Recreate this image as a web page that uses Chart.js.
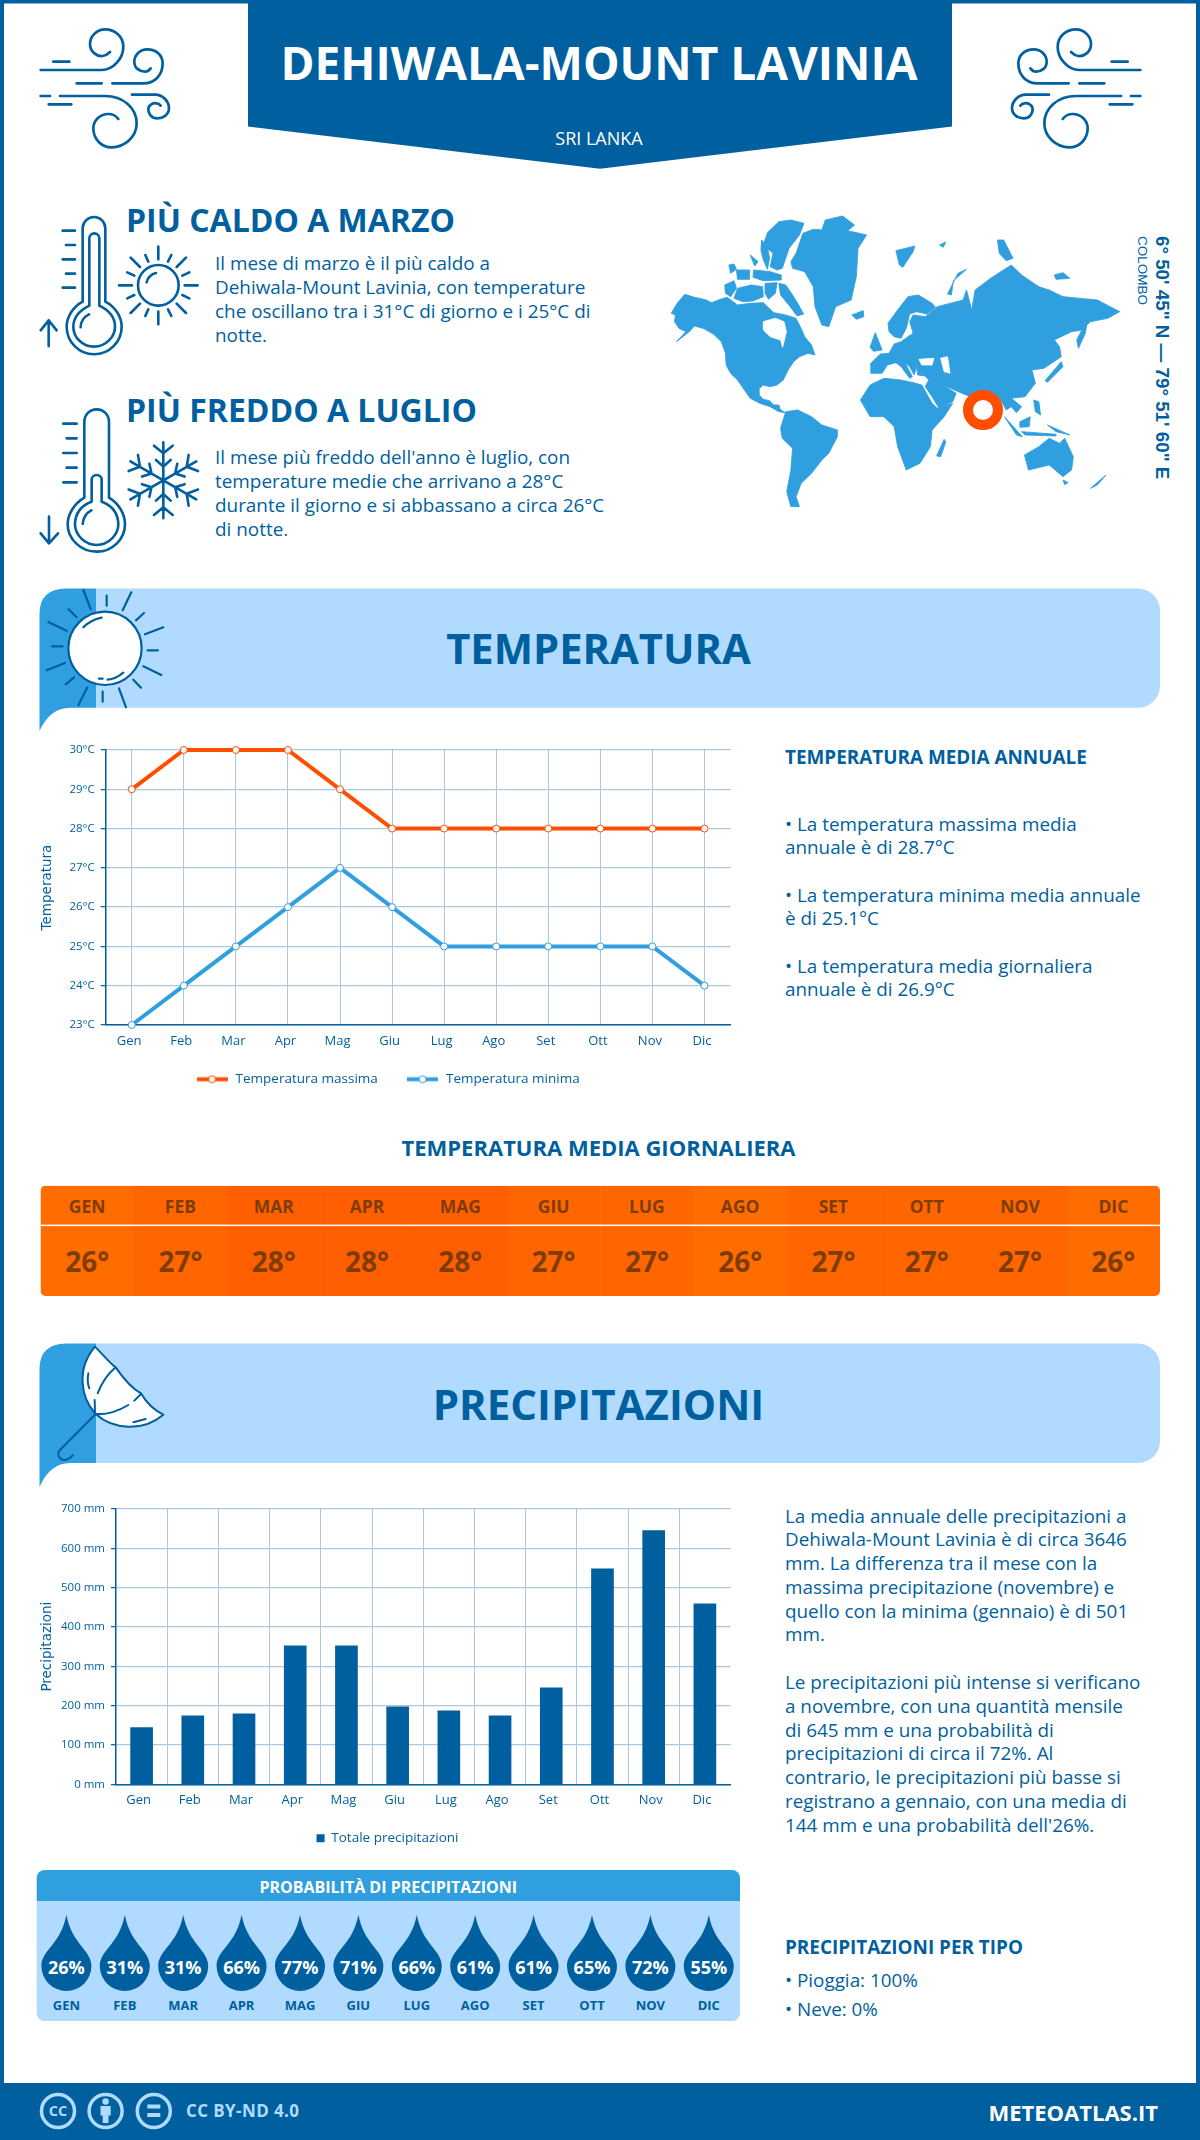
<!DOCTYPE html>
<html>
<head>
<meta charset="utf-8">
<title>Dehiwala-Mount Lavinia</title>
<script src="https://cdn.jsdelivr.net/npm/chart.js@4"></script>
<style>
  html, body { margin: 0; padding: 0; background: #fff; }
  #page { position: relative; width: 1200px; height: 2140px; overflow: hidden; background: #fff; font-family: "Open Sans", sans-serif; color: #005f9e; }
  #art { position: absolute; left: 0; top: 0; }
  canvas { position: absolute; }
  .t { position: absolute; white-space: nowrap; }
  .c { text-align: center; }
  .b { font-weight: 700; }
  .p { position: absolute; font-size: 18.9px; line-height: 24px; white-space: nowrap; }
  .r { position: absolute; left: 785px; font-size: 18.85px; line-height: 23.8px; white-space: nowrap; }
  .ic { fill: none; stroke: #005f9e; stroke-linecap: round; stroke-linejoin: round; }
  .ic *, #wind *, #arm * { vector-effect: non-scaling-stroke; }
</style>
</head>
<body>
<div id="page">
  <svg id="art" width="1200" height="2140" xmlns="http://www.w3.org/2000/svg">
    <defs>
      <g id="wind">
        <path d="M70,125 H118 M32,150 H215 C250,150 280,115 280,80 C280,50 255,28 225,28 C200,28 180,50 180,72 C180,95 200,110 218,108 C228,107 236,100 240,96"/>
        <path d="M140,190 H215 M247,190 H340 C375,190 398,165 398,130 C398,105 378,88 352,88 C330,88 313,105 313,125 C313,145 330,155 345,155 C352,155 358,150 362,145"/>
        <path d="M32,228 H60 M90,228 H225 C280,228 320,265 320,310 C320,350 285,382 245,382 C215,382 190,358 190,325 C190,300 212,282 235,282 C250,282 260,290 265,297"/>
        <path d="M56,253 H124 M306,224 H375 C400,224 417,245 417,265 C417,285 398,295 382,295 C365,295 355,282 355,268 C355,255 370,248 380,250 C385,250 390,254 392,257"/>
      </g>
      <g id="arm">
        <path d="M400,241 V127 M372,137 L400,160 L428,137 M378,180 L400,200 L422,180"/>
      </g>
    </defs>

    <!-- page frame and header -->
    <path d="M0,0 H1200 V2140 H0 Z M4,3.5 V2140 H1196 V3.5 Z" fill="#005f9e" fill-rule="evenodd"/>
    <path d="M248,0 H952 V126.5 L600,168.7 L248,126.5 Z" fill="#005f9e"/>
    <g class="ic" stroke-width="2.7" transform="translate(30,20) scale(.3333)"><use href="#wind"/></g>
    <g class="ic" stroke-width="2.7" transform="translate(1151,20) scale(-.3333,.3333)"><use href="#wind"/></g>

    <!-- hot thermometer and sun -->
    <g class="ic" stroke-width="2.6" transform="translate(30,205) scale(.3333)">
      <path d="M158,290 V70 A34,34 0 0 1 226,70 V290 C255,305 275,335 275,365 C275,410 238,448 192,448 C147,448 110,410 110,365 C110,335 130,305 158,290 Z"/>
      <path d="M178,302 V100 A15,15 0 0 1 208,100 V302 C235,315 255,335 255,365 C255,395 228,425 192,425 C158,425 130,398 130,365 C130,335 152,315 178,302 Z"/>
      <path d="M152,367 C152,350 163,335 177,328 M98,77 H135 M108,120 H135 M98,163 H135 M108,206 H135 M98,248 H135 M56,424 V346 M32,376 L56,346 L80,376"/>
      <circle cx="385" cy="241" r="61"/>
      <path d="M350,232 C352,218 365,207 378,204 M385,125 V163 M385,320 V358 M267,241 H306 M464,241 H503 M302,158 L330,186 M468,158 L440,186 M302,324 L330,296 M468,324 L440,296 M346,150 L355,170 M424,150 L414,170 M292,202 L313,212 M478,202 L457,212 M292,280 L313,270 M478,280 L457,270 M346,333 L355,313 M424,333 L414,313"/>
    </g>

    <!-- cold thermometer and snowflake -->
    <g class="ic" stroke-width="2.6" transform="translate(30,400) scale(.3333)">
      <path d="M163,293 V65 A37,37 0 0 1 237,65 V293 C265,310 285,340 285,373 C285,418 247,455 200,455 C153,455 113,418 113,373 C113,340 135,310 163,293 Z"/>
      <path d="M185,305 V240 A15,15 0 0 1 215,240 V305 C245,315 265,340 265,373 C265,405 235,435 200,435 C165,435 135,405 135,373 C135,340 155,315 185,305 Z"/>
      <path d="M158,372 C160,352 170,338 184,331 M100,71 H140 M110,115 H140 M100,159 H140 M110,203 H140 M100,247 H140 M57,350 V430 M32,400 L57,430 L84,400"/>
      <use href="#arm"/>
      <use href="#arm" transform="rotate(60 400 241)"/>
      <use href="#arm" transform="rotate(120 400 241)"/>
      <use href="#arm" transform="rotate(180 400 241)"/>
      <use href="#arm" transform="rotate(240 400 241)"/>
      <use href="#arm" transform="rotate(300 400 241)"/>
    </g>

    <!-- world map -->
    <g transform="translate(660,190) scale(.3444,.3333)" fill="#2f9fdf" stroke="#2f9fdf" stroke-width="2.5" stroke-linejoin="round">
      <path d="M35,365 L50,340 L72,313 L100,322 L135,330 L150,338 L175,328 L195,322 L225,345 L262,340 L300,338 L330,368 L365,375 L395,385 L412,420 L420,440 L440,465 L450,495 L430,490 L405,500 L388,515 L372,540 L358,570 L340,585 L320,590 L300,585 L288,595 L288,615 L300,628 L318,632 L330,645 L345,645 L350,660 L365,668 L345,665 L320,650 L290,640 L262,625 L245,600 L225,570 L205,550 L192,525 L190,490 L178,455 L155,432 L125,415 L100,408 L85,425 L48,455 L75,425 L55,415 L42,395 L45,375 L33,370 Z"/>
      <path d="M300,395 L335,385 L360,395 L367,425 L356,472 L350,450 L320,440 L300,420 Z M345,345 L362,340 L372,358 L352,368 Z" fill="#fff" stroke="#fff"/>
      <path d="M312,128 L345,95 L380,90 L418,100 L405,135 L375,175 L355,235 L340,240 L320,230 L328,190 L300,165 Z M295,150 L312,170 L318,205 L312,238 L300,210 L293,180 Z"/>
      <path d="M188,285 L215,272 L222,295 L205,320 L190,310 Z M225,295 L265,285 L298,290 L300,320 L270,333 L240,335 L215,325 Z M272,240 L320,245 L352,255 L352,270 L300,272 L270,262 Z M222,240 L260,240 L260,268 L225,268 Z M200,225 L215,222 L222,238 L205,250 Z M262,195 L285,215 L275,228 Z"/>
      <path d="M305,280 L340,278 L335,310 L315,328 L305,310 Z M345,280 L365,285 L385,315 L400,340 L417,372 L398,378 L378,350 L350,315 Z"/>
      <path d="M380,215 L395,190 L415,130 L445,118 L470,120 L480,90 L530,78 L565,105 L545,122 L600,135 L575,175 L570,260 L555,330 L510,350 L490,410 L470,405 L450,350 L445,290 L420,245 L385,235 Z"/>
      <path d="M557,375 L590,362 L592,380 L570,388 Z M685,182 L740,168 L735,185 L705,232 L695,225 Z M812,165 L830,156 L822,172 Z M980,150 L998,150 L1025,205 L1005,212 L985,190 Z M1145,255 L1170,248 L1190,265 L1150,268 Z"/>
      <path d="M350,715 L365,665 L400,660 L440,680 L470,705 L515,720 L515,740 L490,790 L470,810 L440,850 L410,880 L395,920 L405,950 L380,950 L368,905 L380,840 L385,775 L355,745 Z"/>
      <path d="M582,630 L610,585 L650,565 L700,570 L735,578 L760,585 L790,640 L805,655 L850,640 L825,680 L790,720 L785,770 L755,820 L715,840 L690,770 L680,710 L650,680 L610,680 Z"/>
      <path d="M825,748 L803,798 L815,800 L830,755 Z"/>
      <path d="M612,520 L640,492 L665,490 L680,462 L700,455 L720,440 L735,430 L725,395 L735,375 L770,380 L805,350 L880,330 L890,300 L905,360 L915,300 L960,265 L1020,225 L1050,255 L1100,290 L1130,300 L1170,320 L1270,330 L1335,365 L1300,385 L1250,395 L1225,420 L1195,425 L1145,450 L1160,470 L1165,500 L1115,535 L1080,540 L1090,580 L1060,620 L1020,625 L1050,650 L1035,668 L1020,650 L1005,660 L995,640 L985,625 L960,610 L920,610 L900,620 L855,600 L820,585 L860,610 L850,635 L810,655 L790,620 L770,590 L780,570 L770,558 L748,555 L745,530 L738,555 L725,530 L712,520 L733,560 L725,565 L700,530 L685,518 L660,525 L645,550 L612,550 Z"/>
      <path d="M662,400 L690,360 L720,320 L750,315 L790,340 L800,352 L775,372 L745,365 L725,372 L715,415 L700,445 L680,440 L665,425 Z"/>
      <path d="M610,472 L625,428 L645,480 L620,484 Z M835,312 L865,250 L890,238 L852,272 L846,315 Z"/>
      <path d="M1118,572 L1165,515 L1170,530 L1125,577 Z M1240,398 L1235,430 L1215,475 L1210,450 L1225,420 Z M1000,680 L1052,740 L1035,735 Z M1050,725 L1150,733 L1150,738 L1060,735 Z M1045,695 L1075,680 L1072,710 L1045,712 Z M1085,630 L1100,635 L1105,675 L1090,665 Z M1125,705 L1190,735 L1150,725 Z"/>
      <path d="M1058,795 L1100,770 L1130,745 L1160,760 L1175,745 L1200,800 L1195,840 L1170,860 L1130,825 L1070,840 Z M1250,895 L1295,855 L1270,885 Z M1170,870 L1185,878 L1175,884 Z"/>
      <path d="M752,508 L795,505 L790,525 L760,525 Z M815,505 L835,500 L842,550 L825,545 Z" fill="#fff" stroke="#fff"/>
    </g>
    <circle cx="983" cy="410" r="15" fill="#fff" stroke="#ff4e00" stroke-width="10"/>

    <!-- temperature banner -->
    <path d="M96,588.6 H1138 A22,22 0 0 1 1160,610.6 V685.8 A22,22 0 0 1 1138,707.8 H96 Z" fill="#b0dbff"/>
    <path d="M39.5,731 V614 Q39.5,589 66,588.6 H96 V707.8 H70 Q50,708 39.5,731 Z" fill="#2f9fdf"/>
    <g class="ic" stroke-width="2.2" transform="translate(30,585) scale(.3333)">
      <circle cx="225" cy="190" r="110" fill="#fff"/>
      <path d="M160,15 L182,72 M230,32 V62 M304,22 L278,76 M342,84 L318,106 M400,127 L345,148 M353,196 H384 M394,270 L340,244 M333,308 L310,284 M288,367 L267,310 M218,320 V350 M172,307 L145,361 M132,277 L107,298 M105,234 L50,256 M98,184 H66 M110,137 L55,111 M140,97 L116,73"/>
      <path d="M160,127 C175,112 195,102 215,98 M207,281 H218 M233,284 C250,283 268,273 280,263"/>
    </g>

    <!-- precipitation banner -->
    <path d="M96,1343.5 H1138 A22,22 0 0 1 1160,1365.5 V1441 A22,22 0 0 1 1138,1463 H96 Z" fill="#b0dbff"/>
    <path d="M39.5,1487 V1369 Q39.5,1344 66,1343.5 H96 V1463 H70 Q50,1463 39.5,1487 Z" fill="#2f9fdf"/>
    <g class="ic" stroke-width="2" transform="translate(30,1340) scale(.3333)">
      <path d="M195,20 C225,50 240,70 257,82 C280,115 305,145 333,160 C350,190 375,212 400,224 C340,275 250,270 197,222 C150,170 140,85 195,20 Z" fill="#fff"/>
      <path d="M257,82 C235,100 215,130 203,160 M194,180 L195,215 M197,222 C235,225 270,210 295,195 M313,182 L333,162 M175,100 C172,115 172,130 178,145 M310,247 L347,237"/>
      <path d="M197,222 L90,330 C78,345 90,362 105,360 C118,358 125,350 129,345"/>
    </g>

    <g id="tableBg"></g>

    <!-- rain probability box -->
    <path d="M36.7,1878 A8,8 0 0 1 44.7,1870 H732 A8,8 0 0 1 740,1878 V1901 H36.7 Z" fill="#2f9fdf"/>
    <path d="M36.7,1901 H740 V2013 A8,8 0 0 1 732,2021 H44.7 A8,8 0 0 1 36.7,2013 Z" fill="#b0dbff"/>
    <g id="drops"></g>

    <!-- footer -->
    <rect x="0" y="2083" width="1200" height="57" fill="#005f9e"/>
    <g fill="none" stroke="#b0dbff" stroke-width="3.5">
      <circle cx="58" cy="2111" r="16.5"/>
      <circle cx="105.6" cy="2111" r="16.5"/>
      <circle cx="153.8" cy="2111" r="16.5"/>
    </g>
    <g fill="#b0dbff">
      <circle cx="105.6" cy="2101.5" r="3.2"/>
      <rect x="100.5" y="2106" width="10.2" height="9.5"/>
      <rect x="102.7" y="2115" width="5.8" height="8"/>
      <rect x="147.3" y="2104.5" width="13" height="4"/>
      <rect x="147.3" y="2113" width="13" height="4"/>
    </g>
  </svg>

  <div class="t c b" style="left:0;width:1198px;top:31.5px;line-height:60px;font-size:46px;color:#fff">DEHIWALA-MOUNT LAVINIA</div>
  <div class="t c" style="left:0;width:1198px;top:126px;line-height:24px;font-size:18px;color:#fff">SRI LANKA</div>

  <div class="t b" style="left:126px;top:199px;line-height:42px;font-size:32px">PIÙ CALDO A MARZO</div>
  <div class="p" style="left:215px;top:251px">Il mese di marzo è il più caldo a<br>Dehiwala-Mount Lavinia, con temperature<br>che oscillano tra i 31°C di giorno e i 25°C di<br>notte.</div>
  <div class="t b" style="left:126px;top:389px;line-height:42px;font-size:32px">PIÙ FREDDO A LUGLIO</div>
  <div class="p" style="left:215px;top:444.5px">Il mese più freddo dell'anno è luglio, con<br>temperature medie che arrivano a 28°C<br>durante il giorno e si abbassano a circa 26°C<br>di notte.</div>

  <div class="t b" id="coords" style="left:1162px;top:236px;width:0;height:0;font-family:'Liberation Sans',sans-serif;font-size:18.8px;line-height:0;transform:rotate(90deg);transform-origin:0 0">6° 50' 45" N — 79° 51' 60" E</div>
  <div class="t" style="left:1142px;top:236px;width:0;height:0;font-family:'Liberation Sans',sans-serif;font-size:13.5px;line-height:0;transform:rotate(90deg);transform-origin:0 0">COLOMBO</div>

  <div class="t c b" style="left:0;width:1197px;top:620px;line-height:56px;font-size:41.7px">TEMPERATURA</div>
  <canvas id="tempChart" width="715" height="370" style="left:30px;top:735px"></canvas>

  <div class="t b" style="left:785px;top:743px;line-height:28px;font-size:18.9px">TEMPERATURA MEDIA ANNUALE</div>
  <div class="r" style="top:812.7px">• La temperatura massima media<br>annuale è di 28.7°C</div>
  <div class="r" style="top:883.7px">• La temperatura minima media annuale<br>è di 25.1°C</div>
  <div class="r" style="top:954.5px">• La temperatura media giornaliera<br>annuale è di 26.9°C</div>

  <div class="t c b" style="left:0;width:1197px;top:1132px;line-height:30px;font-size:22px">TEMPERATURA MEDIA GIORNALIERA</div>
  <div id="tableText"></div>

  <div class="t c b" style="left:0;width:1197px;top:1376px;line-height:56px;font-size:42px">PRECIPITAZIONI</div>
  <canvas id="rainChart" width="715" height="361" style="left:30px;top:1494px"></canvas>

  <div class="r" style="top:1504.5px">La media annuale delle precipitazioni a<br>Dehiwala-Mount Lavinia è di circa 3646<br>mm. La differenza tra il mese con la<br>massima precipitazione (novembre) e<br>quello con la minima (gennaio) è di 501<br>mm.</div>
  <div class="r" style="top:1671px">Le precipitazioni più intense si verificano<br>a novembre, con una quantità mensile<br>di 645 mm e una probabilità di<br>precipitazioni di circa il 72%. Al<br>contrario, le precipitazioni più basse si<br>registrano a gennaio, con una media di<br>144 mm e una probabilità dell'26%.</div>

  <div class="t c b" style="left:36.7px;width:703px;top:1875px;line-height:24px;font-size:16px;color:#fff">PROBABILITÀ DI PRECIPITAZIONI</div>
  <div id="dropText"></div>

  <div class="t b" style="left:785px;top:1933px;line-height:28px;font-size:18.9px">PRECIPITAZIONI PER TIPO</div>
  <div class="r" style="top:1969px">• Pioggia: 100%</div>
  <div class="r" style="top:1998px">• Neve: 0%</div>

  <div class="t c b" style="left:40px;width:36px;top:2101px;line-height:20px;font-size:14.5px;color:#b0dbff">CC</div>
  <div class="t b" style="left:186px;top:2100px;line-height:22px;font-size:17px;letter-spacing:.4px;color:#b0dbff">CC BY-ND 4.0</div>
  <div class="t b" style="right:42px;top:2094px;line-height:36px;font-size:22px;color:#fff">METEOATLAS.IT</div>
</div>

<script>
var BLUE = '#005f9e';
var SKY = '#2f9fdf';
var ORANGE = '#ff4e00';
var GRID = '#adc8de';

var months = ['Gen', 'Feb', 'Mar', 'Apr', 'Mag', 'Giu', 'Lug', 'Ago', 'Set', 'Ott', 'Nov', 'Dic'];
var monthsUpper = ['GEN', 'FEB', 'MAR', 'APR', 'MAG', 'GIU', 'LUG', 'AGO', 'SET', 'OTT', 'NOV', 'DIC'];
var tempMax = [29, 30, 30, 30, 29, 28, 28, 28, 28, 28, 28, 28];
var tempMin = [23, 24, 25, 26, 27, 26, 25, 25, 25, 25, 25, 24];
var tempMean = [26, 27, 28, 28, 28, 27, 27, 26, 27, 27, 27, 26];
var rainTotal = [144, 174, 179, 352, 352, 197, 187, 174, 245, 548, 645, 459];
var rainChance = [26, 31, 31, 66, 77, 71, 66, 61, 61, 65, 72, 55];

Chart.defaults.font.family = '"Open Sans", sans-serif';
Chart.defaults.color = BLUE;
Chart.defaults.animation = false;

// legend sits centred under the whole block, not under the padded area
function shiftLegend(dy) {
  return {
    id: 'shiftLegend',
    afterLayout: function (chart) {
      chart.legend.left += 7.25;
      chart.legend.right += 7.25;
      chart.legend.top += dy;
      chart.legend.bottom += dy;
    }
  };
}

// little line + dot used in the legend
function legendMark(color) {
  var c = document.createElement('canvas');
  c.width = 31; c.height = 11;
  var g = c.getContext('2d');
  g.fillStyle = color;
  g.fillRect(0, 3.5, 31, 4);
  g.beginPath();
  g.arc(15.5, 5.5, 3.5, 0, Math.PI * 2);
  g.fillStyle = '#fff';
  g.fill();
  g.lineWidth = 1;
  g.strokeStyle = color;
  g.stroke();
  return c;
}

function yTitle(text) {
  return { display: true, text: text, color: BLUE, font: { family: '"DejaVu Sans"', size: 13.5 }, padding: { top: 9.5, bottom: 0 } };
}

function lineSet(label, data, color) {
  return {
    label: label,
    data: data,
    borderColor: color,
    backgroundColor: color,
    borderWidth: 4,
    pointRadius: 3.5,
    pointBorderWidth: 1,
    pointBackgroundColor: '#fff',
    pointBorderColor: color,
    tension: 0,
    clip: false
  };
}

new Chart(document.getElementById('tempChart').getContext('2d'), {
  type: 'line',
  data: {
    labels: months,
    datasets: [
      lineSet('Temperatura massima', tempMax, ORANGE),
      lineSet('Temperatura minima', tempMin, SKY)
    ]
  },
  plugins: [shiftLegend(-9)],
  options: {
    responsive: false,
    layout: { padding: { top: 15, right: 14.5, left: 0, bottom: 0 } },
    plugins: {
      tooltip: { enabled: false },
      legend: {
        position: 'bottom',
        labels: {
          usePointStyle: true,
          pointStyleWidth: 33.5,
          padding: 28,
          color: BLUE,
          font: { size: 13.5 },
          generateLabels: function (chart) {
            return chart.data.datasets.map(function (d, i) {
              return { text: d.label, pointStyle: legendMark(d.borderColor), fontColor: BLUE, lineWidth: 0, hidden: false, datasetIndex: i };
            });
          }
        }
      }
    },
    scales: {
      x: {
        offset: true,
        afterFit: function (s) { s.height = 28.5; },
        border: { color: BLUE, width: 1.5 },
        grid: { color: GRID, drawTicks: false, offset: false },
        ticks: { padding: 8.6, labelOffset: -2.5, autoSkip: false, maxRotation: 0, color: BLUE, font: { size: 13 } }
      },
      y: {
        min: 23,
        max: 30,
        afterFit: function (s) { s.width = 75.7; },
        title: yTitle('Temperatura'),
        border: { color: BLUE, width: 1.5 },
        grid: { color: GRID, lineWidth: 1.3, tickColor: BLUE, tickLength: 5, tickWidth: 1.2 },
        ticks: { stepSize: 1, padding: 6, color: BLUE, font: { size: 11.5 }, callback: function (v) { return v + '°C'; } }
      }
    }
  }
});

new Chart(document.getElementById('rainChart').getContext('2d'), {
  type: 'bar',
  data: {
    labels: months,
    datasets: [{ label: 'Totale precipitazioni', data: rainTotal, backgroundColor: BLUE, barThickness: 22 }]
  },
  plugins: [shiftLegend(0)],
  options: {
    responsive: false,
    layout: { padding: { top: 15, right: 14.5, left: 0, bottom: 0 } },
    plugins: {
      tooltip: { enabled: false },
      legend: {
        position: 'bottom',
        labels: { boxWidth: 8, boxHeight: 8, padding: 10, color: BLUE, font: { size: 13.5 } }
      }
    },
    scales: {
      x: {
        afterFit: function (s) { s.height = 37.2; },
        border: { color: BLUE, width: 1.5 },
        grid: {
          drawTicks: false,
          color: function (ctx) { return ctx.index === undefined ? 'transparent' : GRID; }
        },
        ticks: { padding: 8.6, labelOffset: -3, autoSkip: false, maxRotation: 0, color: BLUE, font: { size: 13 } }
      },
      y: {
        min: 0,
        max: 700,
        afterFit: function (s) { s.width = 86; },
        title: yTitle('Precipitazioni'),
        border: { color: BLUE, width: 1.5 },
        grid: { color: GRID, lineWidth: 1.3, tickColor: BLUE, tickLength: 5, tickWidth: 1.2 },
        ticks: { stepSize: 100, padding: 6, color: BLUE, font: { size: 11.5 }, callback: function (v) { return v + ' mm'; } }
      }
    }
  }
});

// daily mean table
var cellColors = { 26: '#ff6d00', 27: '#ff6600', 28: '#ff5f00' };
var tableSvg = '<clipPath id="tableClip"><rect x="40.5" y="1185.7" width="1119.5" height="110.3" rx="5"/></clipPath><g clip-path="url(#tableClip)">';
var tableHtml = '';
var cellW = 1119.5 / 12;
tempMean.forEach(function (v, i) {
  var x = 40.5 + i * cellW;
  tableSvg += '<rect x="' + x + '" y="1185.7" width="' + (cellW + 0.5) + '" height="110.3" fill="' + cellColors[v] + '"/>';
  tableHtml += '<div class="t c b" style="left:' + x + 'px;width:' + cellW + 'px;top:1193px;line-height:26px;font-size:17.5px;color:#7f3c00">' + monthsUpper[i] + '</div>';
  tableHtml += '<div class="t c b" style="left:' + x + 'px;width:' + cellW + 'px;top:1241px;line-height:40px;font-size:28px;color:#7f3c00">' + v + '°</div>';
});
tableSvg += '<rect x="40.5" y="1224.6" width="1119.5" height="1.5" fill="#fff"/></g>';
document.getElementById('tableBg').innerHTML = tableSvg;
document.getElementById('tableText').innerHTML = tableHtml;

// rain chance drops
var dropsSvg = '';
var dropsHtml = '';
rainChance.forEach(function (v, i) {
  var cx = 66.4 + i * 58.4;
  dropsSvg += '<path fill="' + BLUE + '" d="M' + cx + ',1915 C' + (cx + 6) + ',1945 ' + (cx + 25) + ',1950 ' + (cx + 25) + ',1966 A25,25 0 0 1 ' + (cx - 25) + ',1966 C' + (cx - 25) + ',1950 ' + (cx - 6) + ',1945 ' + cx + ',1915 Z"/>';
  dropsHtml += '<div class="t c b" style="left:' + (cx - 29) + 'px;width:58px;top:1954px;line-height:26px;font-size:18px;color:#fff">' + v + '%</div>';
  dropsHtml += '<div class="t c b" style="left:' + (cx - 29) + 'px;width:58px;top:1995px;line-height:20px;font-size:13px;color:' + BLUE + '">' + monthsUpper[i] + '</div>';
});
document.getElementById('drops').innerHTML = dropsSvg;
document.getElementById('dropText').innerHTML = dropsHtml;
</script>
</body>
</html>
